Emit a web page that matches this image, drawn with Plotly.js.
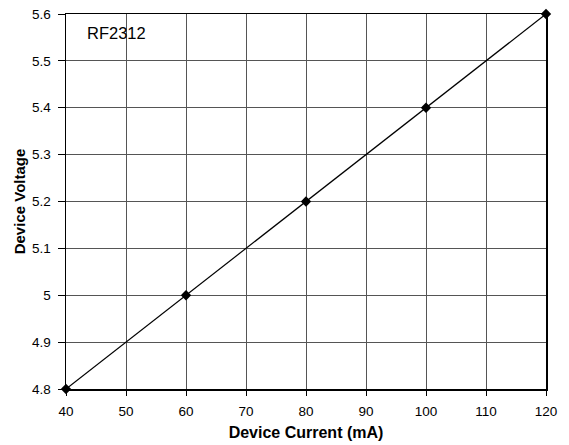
<!DOCTYPE html>
<html><head><meta charset="utf-8">
<script src="https://cdn.plot.ly/plotly-3.0.1.min.js"></script>
<style>html,body{margin:0;padding:0;background:#fff;}#c{width:569px;height:445px;}</style>
</head><body><div id="c"></div>
<script>
var current = [40, 60, 80, 100, 120];
var voltage = [4.8, 5.0, 5.2, 5.4, 5.6];
var xTicks = [40, 50, 60, 70, 80, 90, 100, 110, 120];
var yTicks = [4.8, 4.9, 5.0, 5.1, 5.2, 5.3, 5.4, 5.5, 5.6];
var yTickText = ['4.8', '4.9', '5', '5.1', '5.2', '5.3', '5.4', '5.5', '5.6'];

Plotly.newPlot('c', [{
  x: current, y: voltage, type: 'scatter', mode: 'lines+markers',
  line: {color: '#000', width: 1.2},
  marker: {symbol: 'diamond', size: 8, color: '#000'},
  cliponaxis: false, hoverinfo: 'none'
}], {
  width: 569, height: 445,
  margin: {l: 66, r: 23, t: 14, b: 56},
  paper_bgcolor: '#fff', plot_bgcolor: '#fff',
  font: {family: 'Liberation Sans, Arial, sans-serif', color: '#000', size: 13},
  showlegend: false,
  xaxis: {
    range: [40, 120], tickvals: xTicks, ticktext: xTicks.map(String),
    showgrid: true, gridcolor: '#555', gridwidth: 1,
    ticks: 'outside', ticklen: 5, tickcolor: '#000', tickwidth: 1,
    ticklabelstandoff: 4,
    showline: true, linecolor: '#000', linewidth: 1.5, mirror: true,
    zeroline: false, tickfont: {size: 13.5},
    title: {text: '<b>Device Current (mA)</b>', font: {size: 16}, standoff: 9}
  },
  yaxis: {
    range: [4.8, 5.6], tickvals: yTicks, ticktext: yTickText,
    showgrid: true, gridcolor: '#555', gridwidth: 1,
    ticks: 'outside', ticklen: 7, tickcolor: '#000', tickwidth: 1,
    ticklabelstandoff: 4,
    showline: true, linecolor: '#000', linewidth: 1.5, mirror: true,
    zeroline: false, tickfont: {size: 13.5},
    title: {text: '<b>Device Voltage</b>', font: {size: 15}, standoff: 3}
  },
  annotations: [{
    text: 'RF2312', xref: 'paper', yref: 'paper', x: 0.04, y: 0.95,
    xanchor: 'left', yanchor: 'middle', showarrow: false, font: {size: 16.5}
  }]
}, {staticPlot: true});
</script></body></html>
